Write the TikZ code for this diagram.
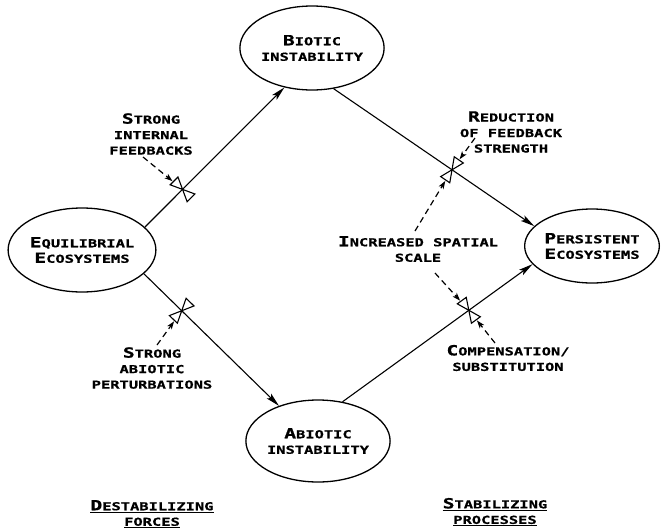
\documentclass[tikz,border=0pt]{standalone}
\usepackage{fontspec}
\newfontfamily\labfont{DejaVu Sans Mono}[FakeStretch=1.4, BoldFeatures={FakeBold=0.8}]
\usetikzlibrary{shapes.geometric,arrows.meta}
\newcommand\Ini[1]{{\fontsize{14}{14}\selectfont #1}}
\tikzset{
  eco/.style={ellipse, draw, line width=1.3pt, inner sep=0pt, align=center},
  lab/.style={align=center, inner sep=0pt},
  flow/.style={line width=1.1pt, -{Stealth[length=14pt,width=6.5pt,inset=3pt]}},
  push/.style={line width=1.2pt, dash pattern=on 6pt off 4pt, -{Stealth[length=8pt,width=5.5pt,inset=2pt]}, shorten >=13pt},
  valve/.pic={\draw[line width=1.1pt, fill=white, solid, -] (0,0) -- (-5.5,12) -- (5.5,12) -- cycle (0,0) -- (-5.5,-12) -- (5.5,-12) -- cycle;}
}
\begin{document}
\begin{tikzpicture}[x=1pt,y=-1pt, every node/.style={font={\labfont\bfseries\fontsize{11}{15.5}\selectfont}}]
\useasboundingbox (0,0) rectangle (665,531);
% ecosystems
\node[eco, minimum width=140pt, minimum height=84pt] (eq) at (82,250) {\Ini{E}QUILIBRIAL\\\Ini{E}COSYSTEMS};
\node[eco, minimum width=141pt, minimum height=84pt] (bi) at (312,48) {\Ini{B}IOTIC\\INSTABILITY};
\node[eco, minimum width=138pt, minimum height=82pt] (ab) at (318,441) {\Ini{A}BIOTIC\\INSTABILITY};
\node[eco, minimum width=129pt, minimum height=74pt] (pe) at (592,246) {\Ini{P}ERSISTENT\\\Ini{E}COSYSTEMS};
% flows
\draw[flow] (eq.20) -- (bi.235) coordinate[pos=.27] (v1);
\draw[flow] (eq.-21) -- (ab.138) coordinate[pos=.28] (v2);
\draw[flow] (bi.-62) -- (pe.161) coordinate[pos=.59] (v3);
\draw[flow] (ab.58) -- (pe.197) coordinate[pos=.665] (v4);
% valves
\pic[rotate=45] at (v1) {valve};
\pic[rotate=-44] at (v2) {valve};
\pic[rotate=-34.4] at (v3) {valve};
\pic[rotate=36] at (v4) {valve};
% labels
\node[lab] (t1) at (151,134) {\Ini{S}TRONG\\INTERNAL\\FEEDBACKS};
\node[lab] (t2) at (152,368) {\Ini{S}TRONG\\ABIOTIC\\PERTURBATIONS};
\node[lab] (t3) at (511,132) {\Ini{R}EDUCTION\\OF FEEDBACK\\STRENGTH};
\node[lab] (t4) at (418,249) {\Ini{I}NCREASED SPATIAL\\SCALE};
\node[lab] (t5) at (508,358) {\Ini{C}OMPENSATION/\\SUBSTITUTION};
\node[lab] (t6) at (152,514) {\underline{\Ini{D}ESTABILIZING}\\\underline{FORCES}};
\node[lab] (t7) at (495,512) {\underline{\Ini{S}TABILIZING}\\\underline{PROCESSES}};
% dashed influences
\coordinate (c1) at (143,157);
\coordinate (c2) at (157,345);
\coordinate (c3) at (475,138);
\coordinate (c4) at (415,231);
\coordinate (c5) at (435,273);
\coordinate (c6) at (495,343);
\draw[push] (c1) -- (v1);
\draw[push] (c2) -- (v2);
\draw[push] (c3) -- (v3);
\draw[push] (c4) -- (v3);
\draw[push] (c5) -- (v4);
\draw[push] (c6) -- (v4);
\end{tikzpicture}
\end{document}
